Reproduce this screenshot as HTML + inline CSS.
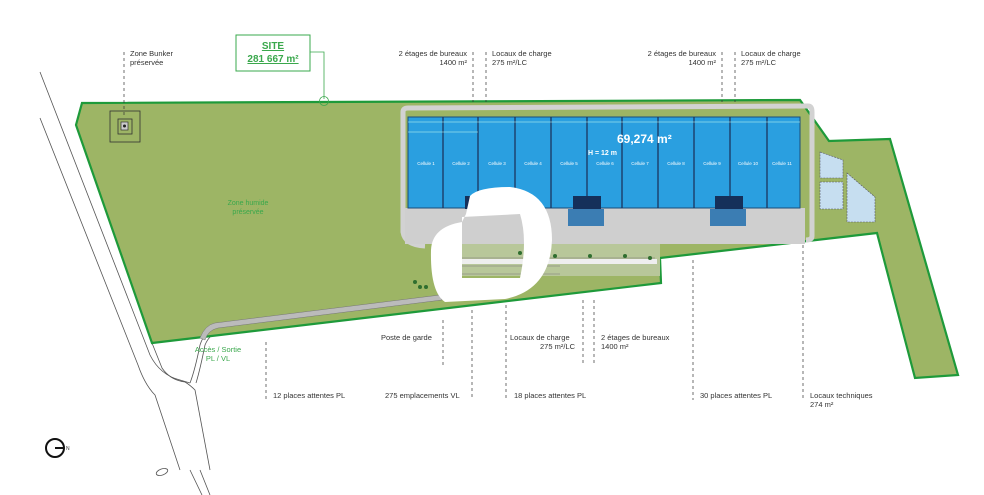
<!DOCTYPE html>
<html><head><meta charset="utf-8"><style>
html,body{margin:0;padding:0;background:#fff;}
svg{display:block;font-family:"Liberation Sans",sans-serif;}
.t{font-size:7.5px;fill:#333;}
</style></head><body>
<svg width="984" height="495" viewBox="0 0 984 495" xmlns="http://www.w3.org/2000/svg">
<!-- road lines -->
<g fill="none" stroke="#555" stroke-width="0.8">
<path d="M40 72 L150 355 Q160 375 180 380 L190 383"/>
<path d="M40 118 L138 365 Q145 385 155 395 L180 470"/>
<path d="M152 343 L162 368 Q170 380 185 382 Q190 385 195 390 L210 470"/>
<path d="M190 383 Q195 370 200 345 Q205 330 215 327"/>
<path d="M196 383 Q200 370 205 345 Q210 333 222 330"/>
<ellipse cx="162" cy="472" rx="6" ry="3" transform="rotate(-20 162 472)"/>
<path d="M190 470 L202 495 M200 470 L210 495"/>
</g>
<!-- site polygon -->
<path d="M82 103 L800 100 L829 141 L890 139 L958 375 L915 378 L877 233 L660 258 L661 283 L152 343 L76 125 Z" fill="#9db565" stroke="#1e9a3a" stroke-width="2.2"/>
<!-- access road -->
<path d="M200 338 Q205 325 215 323 L440 295 L442 300 L218 328 Q208 330 205 340 Z" fill="#bbb" stroke="#777" stroke-width="0.5"/>
<!-- inner ring road -->
<path d="M403 112 Q403 108 408 108 L808 106 Q812 106 812 112 L812 236 Q812 240 806 240" fill="none" stroke="#d2d2d2" stroke-width="5"/>
<path d="M403 112 L403 232 Q405 245 425 246" fill="none" stroke="#d2d2d2" stroke-width="5"/>
<rect x="405" y="208" width="400" height="36" fill="#cfcfcf"/>
<!-- parking lots -->
<rect x="460" y="244" width="200" height="32" fill="#b8c79a"/>
<g stroke="#777" stroke-width="0.6">
<line x1="462" y1="258" x2="655" y2="258"/>
<line x1="462" y1="266" x2="560" y2="266"/>
<line x1="462" y1="274" x2="560" y2="274"/>
</g>
<rect x="462" y="259" width="195" height="5" fill="#eee"/>
<g fill="#2f6e2f">
<circle cx="520" cy="253" r="2"/><circle cx="555" cy="256" r="2"/><circle cx="590" cy="256" r="2"/><circle cx="625" cy="256" r="2"/><circle cx="650" cy="258" r="2"/>
<circle cx="415" cy="282" r="2"/><circle cx="420" cy="287" r="2"/><circle cx="426" cy="287" r="2"/>
</g>
<!-- building -->
<rect x="408" y="117" width="392" height="91" fill="#2a9fe0" stroke="#1b4d7a" stroke-width="1"/>
<g stroke="#1b2d55" stroke-width="1.2">
<line x1="443" y1="117" x2="443" y2="208"/><line x1="478" y1="117" x2="478" y2="208"/>
<line x1="515" y1="117" x2="515" y2="208"/><line x1="551" y1="117" x2="551" y2="208"/>
<line x1="587" y1="117" x2="587" y2="208"/><line x1="622" y1="117" x2="622" y2="208"/>
<line x1="658" y1="117" x2="658" y2="208"/><line x1="694" y1="117" x2="694" y2="208"/>
<line x1="730" y1="117" x2="730" y2="208"/><line x1="767" y1="117" x2="767" y2="208"/>
</g>
<line x1="408" y1="122" x2="800" y2="122" stroke="#cfe" stroke-width="0.5"/>
<line x1="408" y1="132" x2="478" y2="132" stroke="#cfe" stroke-width="0.5"/>
<text x="617" y="143" font-size="12" font-weight="bold" fill="#fff">69,274 m²</text>
<text x="588" y="155" font-size="7" font-weight="bold" fill="#fff">H = 12 m</text>
<g font-size="4.5" fill="#fff" text-anchor="middle">
<text x="426" y="165">Cellule 1</text><text x="461" y="165">Cellule 2</text><text x="497" y="165">Cellule 3</text>
<text x="533" y="165">Cellule 4</text><text x="569" y="165">Cellule 5</text><text x="605" y="165">Cellule 6</text>
<text x="640" y="165">Cellule 7</text><text x="676" y="165">Cellule 8</text><text x="712" y="165">Cellule 9</text>
<text x="748" y="165">Cellule 10</text><text x="782" y="165">Cellule 11</text>
</g>
<!-- docks -->
<rect x="573" y="196" width="28" height="13" fill="#15305a"/>
<rect x="568" y="209" width="36" height="17" fill="#3b7db3"/>
<rect x="715" y="196" width="28" height="13" fill="#15305a"/>
<rect x="710" y="209" width="36" height="17" fill="#3b7db3"/>
<rect x="465" y="196" width="20" height="13" fill="#15305a"/>
<!-- ponds -->
<path d="M820 152 L843 160 L843 178 L820 178 Z" fill="#c6def0" stroke="#556" stroke-width="0.6" stroke-dasharray="2,1"/>
<rect x="820" y="182" width="23" height="27" fill="#c6def0" stroke="#556" stroke-width="0.6" stroke-dasharray="2,1"/>
<path d="M847 173 L875 197 L875 222 L847 222 Z" fill="#c6def0" stroke="#556" stroke-width="0.6" stroke-dasharray="2,1"/>
<!-- bunker -->
<rect x="110" y="111" width="30" height="31" fill="none" stroke="#333" stroke-width="0.8"/>
<rect x="118" y="119" width="14" height="15" fill="none" stroke="#333" stroke-width="0.8"/>
<rect x="121" y="122" width="7" height="8" fill="#ccc" stroke="#333" stroke-width="0.7"/>
<circle cx="124.5" cy="126" r="1.5" fill="#222"/>
<text x="248" y="205" font-size="7" fill="#3aa84c" text-anchor="middle">Zone humide</text>
<text x="248" y="214" font-size="7" fill="#3aa84c" text-anchor="middle">préservée</text>
<!-- white blob -->
<path fill="#fff" fill-rule="evenodd" d="M466 214 L470 196 Q478 187 510 187 Q552 192 552 240 Q550 290 505 299 L445 302 Q430 292 431 250 Q432 227 462 222 Z M462 217 L520 214 Q528 240 520 278 L462 278 Z"/>
<!-- SITE box -->
<rect x="236" y="35" width="74" height="36" fill="#fff" stroke="#3aa84c" stroke-width="1"/>
<text x="273" y="49" font-size="10" font-weight="bold" fill="#3aa84c" text-anchor="middle" text-decoration="underline">SITE</text>
<text x="273" y="62" font-size="10" font-weight="bold" fill="#3aa84c" text-anchor="middle" text-decoration="underline">281 667 m²</text>
<path d="M310 52 L324 52 L324 99" fill="none" stroke="#3aa84c" stroke-width="0.8"/>
<circle cx="324" cy="101" r="4.5" fill="none" stroke="#3aa84c" stroke-width="0.8"/>
<!-- dashed leaders -->
<g stroke="#333" stroke-width="0.7" stroke-dasharray="3,3" fill="none">
<line x1="124" y1="52" x2="124" y2="118"/>
<line x1="473" y1="52" x2="473" y2="102"/><line x1="486" y1="52" x2="486" y2="102"/>
<line x1="722" y1="52" x2="722" y2="102"/><line x1="735" y1="52" x2="735" y2="102"/>
<line x1="266" y1="342" x2="266" y2="400"/>
<line x1="443" y1="320" x2="443" y2="365"/>
<line x1="472" y1="310" x2="472" y2="400"/>
<line x1="506" y1="305" x2="506" y2="400"/>
<line x1="583" y1="300" x2="583" y2="365"/>
<line x1="594" y1="300" x2="594" y2="365"/>
<line x1="693" y1="260" x2="693" y2="400"/>
<line x1="803" y1="245" x2="803" y2="400"/>
</g>
<!-- labels -->
<text class="t" x="130" y="56">Zone Bunker</text>
<text class="t" x="130" y="65">préservée</text>
<text class="t" x="467" y="56" text-anchor="end">2 étages de bureaux</text>
<text class="t" x="467" y="65" text-anchor="end">1400 m²</text>
<text class="t" x="492" y="56">Locaux de charge</text>
<text class="t" x="492" y="65">275 m²/LC</text>
<text class="t" x="716" y="56" text-anchor="end">2 étages de bureaux</text>
<text class="t" x="716" y="65" text-anchor="end">1400 m²</text>
<text class="t" x="741" y="56">Locaux de charge</text>
<text class="t" x="741" y="65">275 m²/LC</text>
<text class="t" x="381" y="340">Poste de garde</text>
<text class="t" x="510" y="340">Locaux de charge</text>
<text class="t" x="575" y="349" text-anchor="end">275 m²/LC</text>
<text class="t" x="601" y="340">2 étages de bureaux</text>
<text class="t" x="601" y="349">1400 m²</text>
<text class="t" x="273" y="398">12 places attentes PL</text>
<text class="t" x="385" y="398">275 emplacements VL</text>
<text class="t" x="514" y="398">18 places attentes PL</text>
<text class="t" x="700" y="398">30 places attentes PL</text>
<text class="t" x="810" y="398">Locaux techniques</text>
<text class="t" x="810" y="407">274 m²</text>
<text x="218" y="352" font-size="7.5" fill="#3aa84c" text-anchor="middle">Accès / Sortie</text>
<text x="218" y="361" font-size="7.5" fill="#3aa84c" text-anchor="middle">PL / VL</text>
<!-- north -->
<circle cx="55" cy="448" r="9" fill="none" stroke="#111" stroke-width="2"/>
<line x1="55" y1="448" x2="64" y2="448" stroke="#111" stroke-width="2"/>
<text x="66" y="450" font-size="5" fill="#333">N</text>
</svg>
</body></html>
